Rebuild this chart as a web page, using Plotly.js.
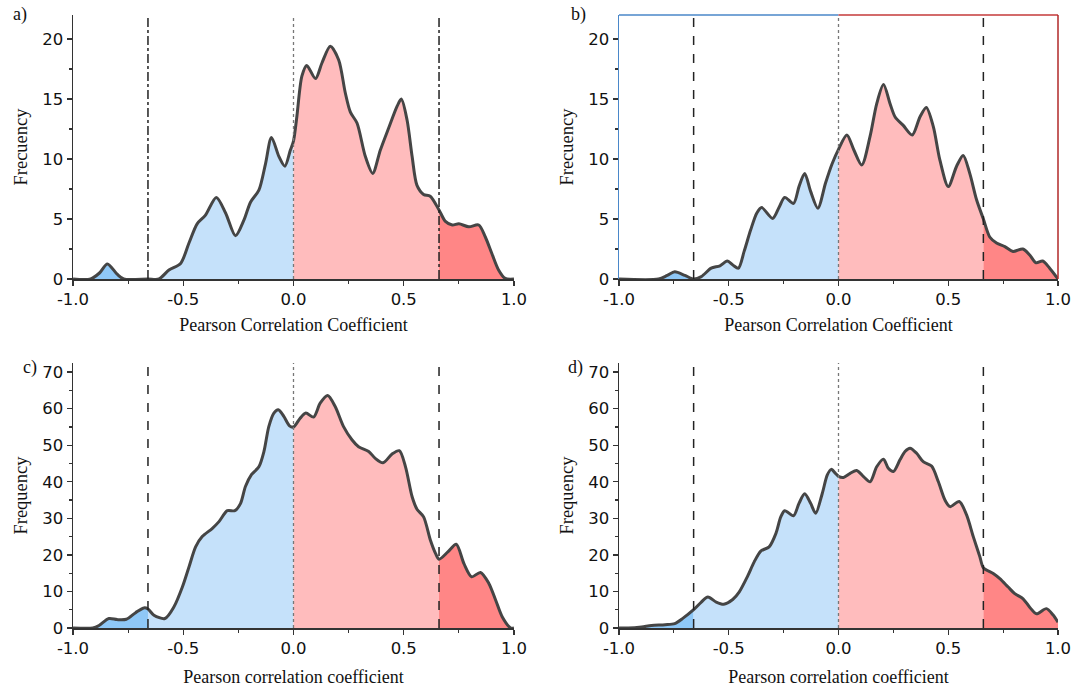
<!DOCTYPE html>
<html>
<head>
<meta charset="utf-8">
<script src="https://cdn.plot.ly/plotly-3.0.1.min.js"></script>
<style>html,body{margin:0;padding:0;background:#fff;}#chart{width:1084px;height:687px;}</style>
</head>
<body>
<div id="chart"></div>
<script>
// ---- Data ----
const xA = [-1, -0.92, -0.88, -0.844, -0.80, -0.77, -0.66, -0.61, -0.565, -0.512, -0.474, -0.437, -0.40, -0.35, -0.308, -0.263, -0.225, -0.195, -0.157, -0.127, -0.10, -0.066, -0.039, -0.014, 0, 0.015, 0.038, 0.06, 0.10, 0.129, 0.167, 0.205, 0.235, 0.258, 0.288, 0.326, 0.359, 0.394, 0.432, 0.47, 0.489, 0.515, 0.538, 0.56, 0.59, 0.62, 0.66, 0.689, 0.72, 0.75, 0.795, 0.84, 0.87, 0.90, 0.93, 0.96, 1.0];
const yA = [0, 0, 0.5, 1.25, 0.4, 0, 0, 0, 0.75, 1.3, 3.0, 4.6, 5.3, 6.8, 5.5, 3.6, 4.9, 6.4, 7.4, 9.6, 11.8, 10.2, 9.4, 10.75, 11.5, 13.5, 16.9, 17.8, 16.7, 18, 19.4, 18.25, 15.5, 13.9, 13.0, 10.2, 8.8, 10.75, 12.6, 14.4, 15.0, 13.25, 10.2, 7.8, 7.05, 6.9, 5.75, 4.8, 4.5, 4.6, 4.35, 4.5, 3.5, 2.1, 0.75, 0.05, 0];

const xB = [-1, -0.82, -0.78, -0.746, -0.70, -0.66, -0.625, -0.58, -0.54, -0.507, -0.48, -0.456, -0.43, -0.40, -0.372, -0.35, -0.30, -0.27, -0.245, -0.205, -0.18, -0.154, -0.127, -0.094, -0.059, -0.029, 0, 0.038, 0.07, 0.106, 0.144, 0.174, 0.205, 0.235, 0.258, 0.295, 0.336, 0.371, 0.40, 0.432, 0.462, 0.50, 0.538, 0.568, 0.598, 0.629, 0.66, 0.689, 0.72, 0.758, 0.795, 0.84, 0.871, 0.90, 0.93, 0.962, 1.0];
const yB = [0, 0, 0.3, 0.6, 0.3, 0, 0.2, 0.9, 1.1, 1.5, 1.15, 0.9, 2.3, 4.1, 5.5, 5.95, 5.05, 6.0, 6.8, 6.3, 7.7, 8.8, 7.3, 5.9, 8.0, 9.6, 10.8, 12.0, 10.75, 9.5, 11.9, 14.6, 16.2, 14.6, 13.5, 12.8, 12.0, 13.5, 14.3, 12.7, 9.9, 7.7, 9.4, 10.3, 8.8, 6.6, 5.0, 3.5, 3.0, 2.7, 2.3, 2.5, 2.0, 1.35, 1.5, 0.9, 0];

const xC = [-1, -0.91, -0.882, -0.837, -0.80, -0.758, -0.716, -0.678, -0.66, -0.633, -0.583, -0.542, -0.504, -0.474, -0.444, -0.414, -0.369, -0.338, -0.30, -0.266, -0.24, -0.218, -0.19, -0.157, -0.134, -0.112, -0.089, -0.069, -0.044, -0.018, 0, 0.03, 0.056, 0.091, 0.121, 0.155, 0.189, 0.227, 0.265, 0.295, 0.341, 0.371, 0.406, 0.447, 0.48, 0.508, 0.538, 0.56, 0.59, 0.621, 0.644, 0.66, 0.70, 0.738, 0.773, 0.808, 0.848, 0.886, 0.917, 0.947, 0.985, 1.0];
const yC = [0, 0, 0.7, 2.6, 2.3, 2.4, 4.2, 5.5, 5.2, 3.5, 2.6, 5.8, 11.2, 16.7, 22.2, 25.0, 27.2, 29.1, 32.1, 32.1, 34.1, 38.7, 42.0, 44.1, 48.3, 55.1, 58.8, 59.7, 57.9, 55.3, 55.0, 57.4, 58.8, 57.7, 61.5, 63.6, 60.6, 55.1, 51.5, 49.6, 48.3, 46.4, 45.2, 47.6, 48.5, 44.1, 35.9, 32.5, 30.4, 24.0, 20.4, 18.8, 20.8, 22.9, 17.6, 14.0, 15.2, 12.2, 7.6, 3.0, 0, 0];

const xD = [-1, -0.958, -0.897, -0.852, -0.79, -0.746, -0.708, -0.66, -0.625, -0.595, -0.557, -0.523, -0.482, -0.452, -0.414, -0.384, -0.353, -0.316, -0.285, -0.263, -0.245, -0.205, -0.18, -0.154, -0.127, -0.104, -0.074, -0.051, -0.033, -0.014, 0, 0.023, 0.053, 0.083, 0.114, 0.144, 0.174, 0.205, 0.227, 0.25, 0.28, 0.303, 0.326, 0.356, 0.386, 0.424, 0.455, 0.485, 0.508, 0.55, 0.583, 0.614, 0.644, 0.66, 0.705, 0.735, 0.773, 0.803, 0.841, 0.871, 0.902, 0.947, 0.977, 1.0];
const yD = [0, 0, 0.3, 0.7, 0.9, 1.2, 2.7, 5.0, 7.1, 8.5, 7.1, 6.5, 7.8, 9.9, 14.2, 18.1, 21.1, 22.2, 25.9, 30.4, 32.1, 30.7, 34.1, 36.7, 34.1, 31.4, 36.8, 41.9, 43.4, 42.3, 41.5, 41.2, 42.3, 43.1, 41.4, 40.0, 44.1, 46.2, 43.7, 42.8, 46.0, 48.3, 49.2, 47.8, 45.5, 44.3, 40.0, 35.0, 33.2, 34.6, 31.0, 25.0, 19.5, 16.5, 14.9, 13.5, 11.2, 9.4, 8.0, 5.7, 3.9, 5.3, 3.6, 1.6];

const thresholds = [-1, -0.66, 0, 0.66, 1];
const panelLabels = ["a)", "b)", "c)", "d)"];
const xTitles = ["Pearson Correlation Coefficient", "Pearson Correlation Coefficient", "Pearson correlation coefficient", "Pearson correlation coefficient"];
const yTitles = ["Frecuency", "Frecuency", "Frequency", "Frequency"];
const xTickVals = [-1.0, -0.5, 0.0, 0.5, 1.0];
const xTickText = ["-1.0", "-0.5", "0.0", "0.5", "1.0"];

// ---- Styles ----
const fillColors = ["#8fc8f7", "#c5e1fa", "#ffbcbd", "#ff8686"];
const lineColor = "#454545";
const serif = "Liberation Serif, Times New Roman, serif";
const sans = "DejaVu Sans, Arial, sans-serif";

const panels = [
  {x: xA, y: yA, xa: "x",  ya: "y",  ymax: 22,   dtick: 5,  minor: 2.5, vstyle: "dashdot", rightTicks: false},
  {x: xB, y: yB, xa: "x2", ya: "y2", ymax: 22,   dtick: 5,  minor: 2.5, vstyle: "dash",    rightTicks: false},
  {x: xC, y: yC, xa: "x3", ya: "y3", ymax: 72.5, dtick: 10, minor: 5,   vstyle: "dash",    rightTicks: true},
  {x: xD, y: yD, xa: "x4", ya: "y4", ymax: 72.5, dtick: 10, minor: 5,   vstyle: "dash",    rightTicks: true}
];
const W = 1084, H = 687;
const xDomL = [73 / W, 514 / W], xDomR = [619 / W, 1058 / W];
const yDomT = [1 - 279 / H, 1 - 15 / H], yDomB = [1 - 628 / H, 1 - 363 / H];
const xStand = [10, 10, 17, 17];
const yStand = [9, 9, 9, 9];

function seg(xs, ys, lo, hi) {
  const sx = [], sy = [];
  for (let i = 0; i < xs.length; i++) {
    if (xs[i] >= lo && xs[i] <= hi) { sx.push(xs[i]); sy.push(ys[i]); }
  }
  return {sx, sy};
}

const traces = [];
const layout = {
  width: W, height: H,
  margin: {l: 0, r: 0, t: 0, b: 0},
  paper_bgcolor: "#fff", plot_bgcolor: "#fff",
  showlegend: false,
  shapes: [], annotations: []
};

panels.forEach((p, k) => {
  for (let r = 0; r < 4; r++) {
    const s = seg(p.x, p.y, thresholds[r], thresholds[r + 1]);
    traces.push({
      x: s.sx, y: s.sy, xaxis: p.xa, yaxis: p.ya, type: "scatter", mode: "lines",
      line: {width: 0, shape: "spline", smoothing: 0.8, color: fillColors[r]},
      fill: "tozeroy", fillcolor: fillColors[r], hoverinfo: "skip"
    });
  }
  traces.push({
    x: p.x, y: p.y, xaxis: p.xa, yaxis: p.ya, type: "scatter", mode: "lines",
    line: {width: 3, shape: "spline", smoothing: 0.8, color: lineColor}
  });

  const n = k + 1;
  const xKey = "xaxis" + (n === 1 ? "" : n);
  const yKey = "yaxis" + (n === 1 ? "" : n);
  const xdom = (k % 2 === 0) ? xDomL : xDomR;
  const ydom = (k < 2) ? yDomT : yDomB;
  const isB = (k === 1);

  layout[xKey] = {
    domain: xdom, anchor: p.ya, range: [-1, 1], fixedrange: true,
    showgrid: false, zeroline: false,
    showline: true, linecolor: "#333", linewidth: 1.5, mirror: false,
    ticks: "outside", ticklen: 5, tickwidth: 1.3, tickcolor: "#333",
    tickvals: xTickVals, ticktext: xTickText,
    minor: {dtick: 0.25, tick0: 0, ticks: "outside", ticklen: 3, tickwidth: 1.2, tickcolor: "#333"},
    tickfont: {family: sans, size: 16.5, color: "#111"},
    title: {text: xTitles[k], font: {family: serif, size: 18, color: "#111"}, standoff: xStand[k]}
  };
  layout[yKey] = {
    domain: ydom, anchor: p.xa, range: [0, p.ymax], fixedrange: true,
    showgrid: false, zeroline: false,
    showline: true, linecolor: isB ? "#4a87c9" : "#333", linewidth: 1.5, mirror: false,
    ticks: "outside", ticklen: 5, tickwidth: 1.3, tickcolor: "#333",
    dtick: p.dtick, tick0: 0,
    minor: {dtick: p.minor, tick0: 0, ticks: "outside", ticklen: 3, tickwidth: 1.2, tickcolor: "#333"},
    tickfont: {family: sans, size: 16.5, color: "#111"},
    title: {text: yTitles[k], font: {family: serif, size: 18.5, color: "#111"}, standoff: yStand[k]}
  };

  // top overlay axis with inward ticks
  const tn = n + 4;
  if (!isB) {
    layout["xaxis" + tn] = {
      overlaying: p.xa, anchor: p.ya, side: "top", range: [-1, 1], fixedrange: true,
      showgrid: false, zeroline: false, showticklabels: false,
      showline: true, linecolor: "#333", linewidth: 1.5,
      ticks: "inside", ticklen: 5, tickwidth: 1.3, tickcolor: "#333", dtick: 0.25, tick0: 0
    };
  } else {
    layout["xaxis" + tn] = {
      overlaying: p.xa, anchor: p.ya, side: "top", range: [-1, 1], fixedrange: true,
      showgrid: false, zeroline: false, showticklabels: false, showline: false,
      ticks: "inside", ticklen: 5, tickwidth: 1.3, tickcolor: "#4a87c9", tickvals: [-0.75, -0.5, -0.25]
    };
    layout["xaxis13"] = {
      overlaying: p.xa, anchor: p.ya, side: "top", range: [-1, 1], fixedrange: true,
      showgrid: false, zeroline: false, showticklabels: false, showline: false,
      ticks: "inside", ticklen: 5, tickwidth: 1.3, tickcolor: "#c43a3a", tickvals: [0.25, 0.5, 0.75]
    };
    // coloured frame of panel b
    layout.shapes.push({type: "line", xref: "x2", yref: "y2 domain", x0: -1, x1: 0, y0: 1, y1: 1, line: {color: "#4a87c9", width: 1.5}});
    layout.shapes.push({type: "line", xref: "x2", yref: "y2 domain", x0: 0, x1: 1, y0: 1, y1: 1, line: {color: "#c43a3a", width: 1.5}});
    layout.shapes.push({type: "line", xref: "x2 domain", yref: "y2 domain", x0: 1, x1: 1, y0: 0, y1: 1, line: {color: "#b02828", width: 1.5}});
  }
  // right overlay axis
  layout["yaxis" + tn] = {
    overlaying: p.ya, anchor: p.xa, side: "right", range: [0, p.ymax], fixedrange: true,
    showgrid: false, zeroline: false, showticklabels: false,
    showline: !isB, linecolor: "#333", linewidth: 1.5,
    ticks: p.rightTicks ? "inside" : "", ticklen: 5, tickwidth: 1.3, tickcolor: "#333", dtick: p.dtick, tick0: 0,
    minor: p.rightTicks ? {dtick: p.minor, tick0: 0, ticks: "inside", ticklen: 3, tickwidth: 1.2, tickcolor: "#333"} : {}
  };

  // reference lines
  [-0.66, 0.66].forEach(v => {
    layout.shapes.push({type: "line", xref: p.xa, yref: p.ya + " domain", x0: v, x1: v, y0: 0, y1: 1,
      line: {color: "#222", width: 1.5, dash: p.vstyle}});
  });
  layout.shapes.push({type: "line", xref: p.xa, yref: p.ya + " domain", x0: 0, x1: 0, y0: 0, y1: 1,
    line: {color: "#777", width: 1.3, dash: "dot"}});
});

const labelPos = [[11 / W, 1 - 2 / H], [569 / W, 1 - 2 / H], [21 / W, 1 - 355 / H], [566 / W, 1 - 355 / H]];
panelLabels.forEach((t, k) => {
  layout.annotations.push({text: t, xref: "paper", yref: "paper", x: labelPos[k][0], y: labelPos[k][1],
    xanchor: "left", yanchor: "top", showarrow: false, font: {family: serif, size: 18, color: "#111"}});
});

Plotly.newPlot("chart", traces, layout, {displayModeBar: false, staticPlot: true});
</script>
</body>
</html>
